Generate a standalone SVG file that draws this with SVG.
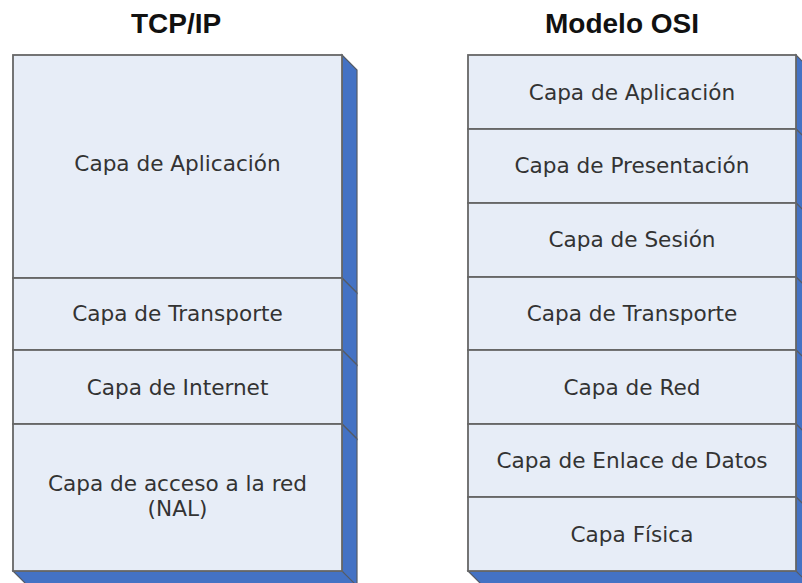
<svg xmlns="http://www.w3.org/2000/svg" width="802" height="583" viewBox="0 0 802 583">
<style>
.front{fill:#E7EDF7;stroke:#666;stroke-width:1.8}
.side{fill:#4472C4;stroke:#555B66;stroke-width:1.2}
.lbl{font-family:"DejaVu Sans",Verdana,sans-serif;font-size:21.6px;fill:#333;text-anchor:middle}
.title{font-family:"Liberation Sans",Arial,sans-serif;font-size:28px;font-weight:bold;fill:#111;text-anchor:middle}
</style>
<rect width="802" height="583" fill="#fff"/>
<text class="title" x="176" y="33">TCP/IP</text>
<text class="title" x="622" y="33">Modelo OSI</text>

<g id="tcpip">
<g id="tcp-aplicacion">
<polygon class="side" points="342,55 357,70 357,293 342,278"/>
<rect class="front" x="13" y="55" width="329" height="223"/>
<text class="lbl" x="177.5" y="171">Capa de Aplicación</text>
</g>
<g id="tcp-transporte">
<polygon class="side" points="342,278 357,293 357,365 342,350"/>
<rect class="front" x="13" y="278" width="329" height="72"/>
<text class="lbl" x="177.5" y="321">Capa de Transporte</text>
</g>
<g id="tcp-internet">
<polygon class="side" points="342,350 357,365 357,439 342,424"/>
<rect class="front" x="13" y="350" width="329" height="74"/>
<text class="lbl" x="177.5" y="395">Capa de Internet</text>
</g>
<g id="tcp-acceso">
<polygon class="side" points="342,424 357,439 357,590 342,571"/>
<polygon class="side" points="13,571 342,571 357,586 28,586"/>
<rect class="front" x="13" y="424" width="329" height="147"/>
<text class="lbl" x="177.5" y="491">Capa de acceso a la red</text>
<text class="lbl" x="177.5" y="516">(NAL)</text>
</g>
</g>

<g id="osi">
<g id="osi-aplicacion">
<polygon class="side" points="796,55 811,70 811,144 796,129"/>
<rect class="front" x="468" y="55" width="328" height="74"/>
<text class="lbl" x="632" y="100">Capa de Aplicación</text>
</g>
<g id="osi-presentacion">
<polygon class="side" points="796,129 811,144 811,218 796,203"/>
<rect class="front" x="468" y="129" width="328" height="74"/>
<text class="lbl" x="632" y="173">Capa de Presentación</text>
</g>
<g id="osi-sesion">
<polygon class="side" points="796,203 811,218 811,292 796,277"/>
<rect class="front" x="468" y="203" width="328" height="74"/>
<text class="lbl" x="632" y="247">Capa de Sesión</text>
</g>
<g id="osi-transporte">
<polygon class="side" points="796,277 811,292 811,365 796,350"/>
<rect class="front" x="468" y="277" width="328" height="73"/>
<text class="lbl" x="632" y="321">Capa de Transporte</text>
</g>
<g id="osi-red">
<polygon class="side" points="796,350 811,365 811,439 796,424"/>
<rect class="front" x="468" y="350" width="328" height="74"/>
<text class="lbl" x="632" y="395">Capa de Red</text>
</g>
<g id="osi-enlace">
<polygon class="side" points="796,424 811,439 811,512 796,497"/>
<rect class="front" x="468" y="424" width="328" height="73"/>
<text class="lbl" x="632" y="468">Capa de Enlace de Datos</text>
</g>
<g id="osi-fisica">
<polygon class="side" points="796,497 811,512 811,590 796,571"/>
<polygon class="side" points="468,571 796,571 811,586 483,586"/>
<rect class="front" x="468" y="497" width="328" height="74"/>
<text class="lbl" x="632" y="542">Capa Física</text>
</g>
</g>
</svg>
